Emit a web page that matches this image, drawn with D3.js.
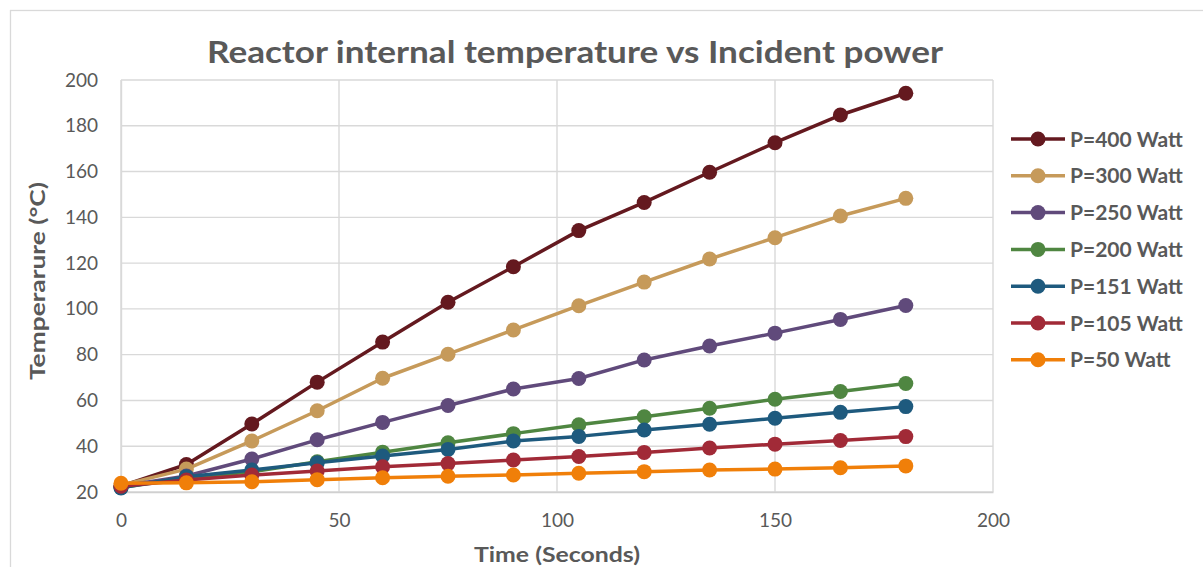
<!DOCTYPE html>
<html>
<head>
<meta charset="utf-8">
<script src="https://cdn.jsdelivr.net/npm/d3@7"></script>
<style>
  html, body { margin: 0; padding: 0; background: #ffffff; }
  svg { display: block; }
  text { font-family: Lato, "Open Sans", "DejaVu Sans", sans-serif; fill: #595959; }
</style>
</head>
<body>
<svg id="chart" width="1203" height="567"></svg>
<script>
const times = [0, 15, 30, 45, 60, 75, 90, 105, 120, 135, 150, 165, 180];
const seriesNames = ["P=400 Watt", "P=300 Watt", "P=250 Watt", "P=200 Watt", "P=151 Watt", "P=105 Watt", "P=50 Watt"];
const seriesColors = ["#64191f", "#c69a5a", "#604a7b", "#4f8641", "#1e5a7e", "#a12a37", "#f07f09"];
const p400 = [22.5, 32.0, 49.7, 68.0, 85.5, 102.9, 118.4, 134.2, 146.5, 159.7, 172.6, 184.7, 194.2];
const p300 = [23.0, 30.0, 42.3, 55.5, 69.7, 80.2, 90.8, 101.4, 111.7, 121.8, 131.1, 140.6, 148.3];
const p250 = [22.5, 27.0, 34.4, 42.8, 50.4, 57.8, 65.0, 69.6, 77.7, 83.8, 89.4, 95.4, 101.5];
const p200 = [22.0, 26.0, 28.8, 33.2, 37.4, 41.5, 45.5, 49.4, 52.9, 56.6, 60.5, 63.9, 67.4];
const p151 = [21.8, 26.7, 29.6, 32.8, 35.7, 38.6, 42.3, 44.3, 47.1, 49.6, 52.2, 54.8, 57.3];
const p105 = [22.5, 25.2, 27.4, 29.2, 31.0, 32.4, 34.0, 35.5, 37.3, 39.2, 40.9, 42.5, 44.2];
const p50  = [23.8, 24.0, 24.5, 25.4, 26.2, 26.9, 27.4, 28.2, 28.9, 29.6, 30.0, 30.6, 31.4];
const seriesValues = [p400, p300, p250, p200, p151, p105, p50];
const xTicks = [0, 50, 100, 150, 200];
const yTicks = [20, 40, 60, 80, 100, 120, 140, 160, 180, 200];
const titleText = "Reactor internal temperature vs Incident power";
const xTitle = "Time (Seconds)";
const yTitle = "Temperarure (°C)";

const svg = d3.select("#chart");
const plotLeft = 121, plotRight = 993, plotTop = 80, plotBottom = 492;

// outer chart border
svg.append("rect").attr("x", 10.5).attr("y", 10.5).attr("width", 1300).attr("height", 700)
  .attr("fill", "#fff").attr("stroke", "#d9d9d9").attr("stroke-width", 1.3);

const x = d3.scaleLinear().domain([0, 200]).range([plotLeft, plotRight]);
const y = d3.scaleLinear().domain([20, 200]).range([plotBottom, plotTop]);

// gridlines
const grid = svg.append("g");
grid.selectAll(".hg").data(yTicks).join("line")
  .attr("x1", plotLeft).attr("x2", plotRight)
  .attr("y1", d => y(d)).attr("y2", d => y(d))
  .attr("stroke", "#d9d9d9").attr("stroke-width", 1.4);
grid.selectAll(".vg").data(xTicks).join("line")
  .attr("y1", plotTop).attr("y2", plotBottom)
  .attr("x1", d => x(d)).attr("x2", d => x(d))
  .attr("stroke", "#d9d9d9").attr("stroke-width", 1.4);

// axes
const xAxis = svg.append("g").attr("transform", `translate(0,${plotBottom})`)
  .call(d3.axisBottom(x).tickValues(xTicks).tickSize(0).tickPadding(22));
xAxis.select(".domain").attr("stroke", "#d0d0d0").attr("stroke-width", 1.4);
xAxis.selectAll("text").style("font-size", "19px").style("fill", "#595959")
  .style("font-family", "Lato, 'Open Sans', sans-serif");

const yAxis = svg.append("g").attr("transform", `translate(${plotLeft},0)`)
  .call(d3.axisLeft(y).tickValues(yTicks).tickSize(0).tickPadding(23));
yAxis.select(".domain").attr("stroke", "#d9d9d9").attr("stroke-width", 1.4);
yAxis.selectAll("text").style("font-size", "19px").style("fill", "#595959")
  .style("font-family", "Lato, 'Open Sans', sans-serif");

// series
const line = d3.line().x((d, i) => x(times[i])).y(d => y(d));
seriesValues.forEach((vals, si) => {
  const g = svg.append("g");
  g.append("path").datum(vals).attr("d", line)
    .attr("fill", "none").attr("stroke", seriesColors[si]).attr("stroke-width", 3.5)
    .attr("stroke-linejoin", "round");
  g.selectAll("circle").data(vals).join("circle")
    .attr("cx", (d, i) => x(times[i])).attr("cy", d => y(d)).attr("r", 7.5)
    .attr("fill", seriesColors[si]);
});

// title
svg.append("text").attr("x", 575).attr("y", 63).attr("text-anchor", "middle")
  .attr("textLength", 736).attr("lengthAdjust", "spacingAndGlyphs")
  .style("font-size", "31px").style("font-weight", "bold").text(titleText);

// axis titles
svg.append("text").attr("x", 557).attr("y", 562).attr("text-anchor", "middle")
  .attr("textLength", 166).attr("lengthAdjust", "spacingAndGlyphs")
  .style("font-size", "21px").style("font-weight", "bold").text(xTitle);
svg.append("text").attr("transform", "translate(45,281) rotate(-90)").attr("text-anchor", "middle")
  .attr("textLength", 198).attr("lengthAdjust", "spacingAndGlyphs")
  .style("font-size", "21px").style("font-weight", "bold").text(yTitle);

// legend
const legend = svg.append("g");
const lg = legend.selectAll("g").data(seriesNames).join("g")
  .attr("transform", (d, i) => `translate(0,${139 + i * 36.8})`);
lg.append("line").attr("x1", 1011).attr("x2", 1065).attr("y1", 0).attr("y2", 0)
  .attr("stroke", (d, i) => seriesColors[i]).attr("stroke-width", 3.5);
lg.append("circle").attr("cx", 1038).attr("cy", 0).attr("r", 7.5)
  .attr("fill", (d, i) => seriesColors[i]);
lg.append("text").attr("x", 1070).attr("y", 0).attr("dy", "0.36em")
  .style("font-size", "21px").style("font-weight", "bold").text(d => d);
</script>
</body>
</html>
